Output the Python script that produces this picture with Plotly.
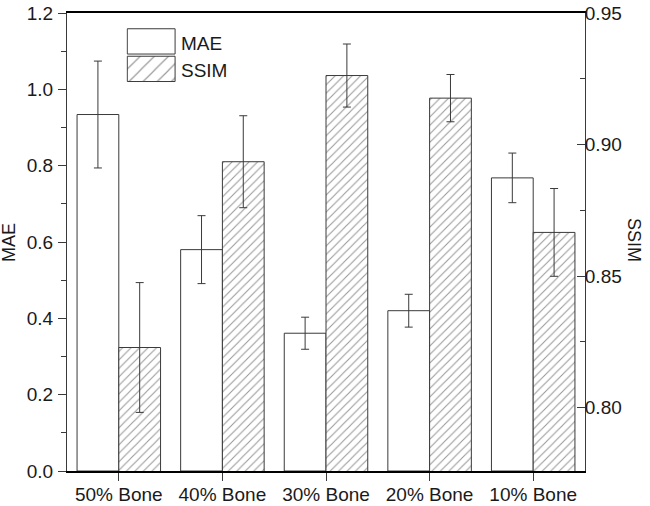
import plotly.graph_objects as go

categories = ["50% Bone", "40% Bone", "30% Bone", "20% Bone", "10% Bone"]
mae = [0.934, 0.580, 0.361, 0.420, 0.768]
mae_err = [0.140, 0.089, 0.042, 0.043, 0.065]
ssim = [0.8228, 0.8935, 0.9263, 0.9177, 0.8666]
ssim_err = [0.0247, 0.0175, 0.012, 0.009, 0.0167]

FONT = "Liberation Sans, Arial, Helvetica, sans-serif"
TXT = "#1a1a1a"
EDGE = "#3a3a3a"
BW = 0.403

fig = go.Figure()
fig.add_trace(go.Bar(
    x=categories, y=mae, name="MAE", offset=-BW, width=BW,
    marker=dict(color="white", line=dict(color=EDGE, width=1)),
    error_y=dict(type="data", array=mae_err, color=EDGE, thickness=1, width=4),
    yaxis="y", showlegend=False))
fig.add_trace(go.Bar(
    x=categories, y=ssim, name="SSIM", offset=0, width=BW,
    marker=dict(color="white", line=dict(color=EDGE, width=1),
                pattern=dict(shape="/", size=6, solidity=0.18, fgcolor="#333", bgcolor="white")),
    error_y=dict(type="data", array=ssim_err, color=EDGE, thickness=1, width=4),
    yaxis="y2", showlegend=False))

# legend swatches
fig.add_trace(go.Bar(
    x=[1], y=[1.5], orientation="h", width=0.92, xaxis="x3", yaxis="y3",
    marker=dict(color="white", line=dict(color=EDGE, width=1)),
    showlegend=False, hoverinfo="skip"))
fig.add_trace(go.Bar(
    x=[1], y=[0.5], orientation="h", width=0.92, xaxis="x3", yaxis="y3",
    marker=dict(color="white", line=dict(color=EDGE, width=1),
                pattern=dict(shape="/", size=10, solidity=0.12, fgcolor="#333", bgcolor="white")),
    showlegend=False, hoverinfo="skip"))

fig.update_layout(
    width=650, height=506,
    margin=dict(l=67, r=65, t=13, b=35),
    paper_bgcolor="white", plot_bgcolor="white",
    font=dict(family=FONT, size=19, color=TXT),
    barmode="overlay",
    xaxis=dict(
        range=[-0.5, 4.5], showline=True, linecolor="black", linewidth=2, mirror=True,
        ticks="outside", ticklen=8, tickcolor=EDGE, tickwidth=1,
        ticklabelstandoff=-3, automargin=False,
        showgrid=False, zeroline=False, tickfont=dict(size=19, color=TXT)),
    yaxis=dict(
        range=[0, 1.2], dtick=0.2, tick0=0, tickformat=".1f",
        showline=True, linecolor=EDGE, linewidth=1,
        ticks="outside", ticklen=8, tickcolor=EDGE, tickwidth=1,
        ticklabelstandoff=1, automargin=False,
        minor=dict(dtick=0.1, ticks="outside", ticklen=5, tickcolor=EDGE),
        showgrid=False, zeroline=False, tickfont=dict(size=19, color=TXT)),
    yaxis2=dict(
        range=[0.7758, 0.9501], dtick=0.05, tick0=0.8, tickformat=".2f",
        overlaying="y", side="right", anchor="x",
        showline=True, linecolor=EDGE, linewidth=1,
        ticks="inside", ticklen=8, tickcolor=EDGE, tickwidth=1,
        ticklabelstandoff=-5, automargin=False,
        minor=dict(dtick=0.025, ticks="inside", ticklen=5, tickcolor=EDGE),
        showgrid=False, zeroline=False, tickfont=dict(size=19, color=TXT)),
    xaxis3=dict(domain=[0.1145, 0.2105], anchor="y3", range=[-0.02, 1.02], visible=False),
    yaxis3=dict(domain=[0.848, 0.968], anchor="x3", range=[0, 2], visible=False),
    annotations=[
        dict(text="MAE", x=-0.112, y=0.5, xref="paper", yref="paper", textangle=-90,
             showarrow=False, xanchor="center", yanchor="middle", font=dict(size=18, color=TXT)),
        dict(text="SSIM", x=1.0946, y=0.5044, xref="paper", yref="paper", textangle=90,
             showarrow=False, xanchor="center", yanchor="middle", font=dict(size=18, color=TXT)),
        dict(text="MAE", x=0.2153, y=0.9338, xref="paper", yref="paper",
             showarrow=False, xanchor="left", yanchor="middle", font=dict(size=19, color=TXT)),
        dict(text="SSIM", x=0.2153, y=0.874, xref="paper", yref="paper",
             showarrow=False, xanchor="left", yanchor="middle", font=dict(size=19, color=TXT)),
    ],
)

fig.write_html("out.html", config={"displayModeBar": False},
               post_script="document.body.style.margin='0';")
